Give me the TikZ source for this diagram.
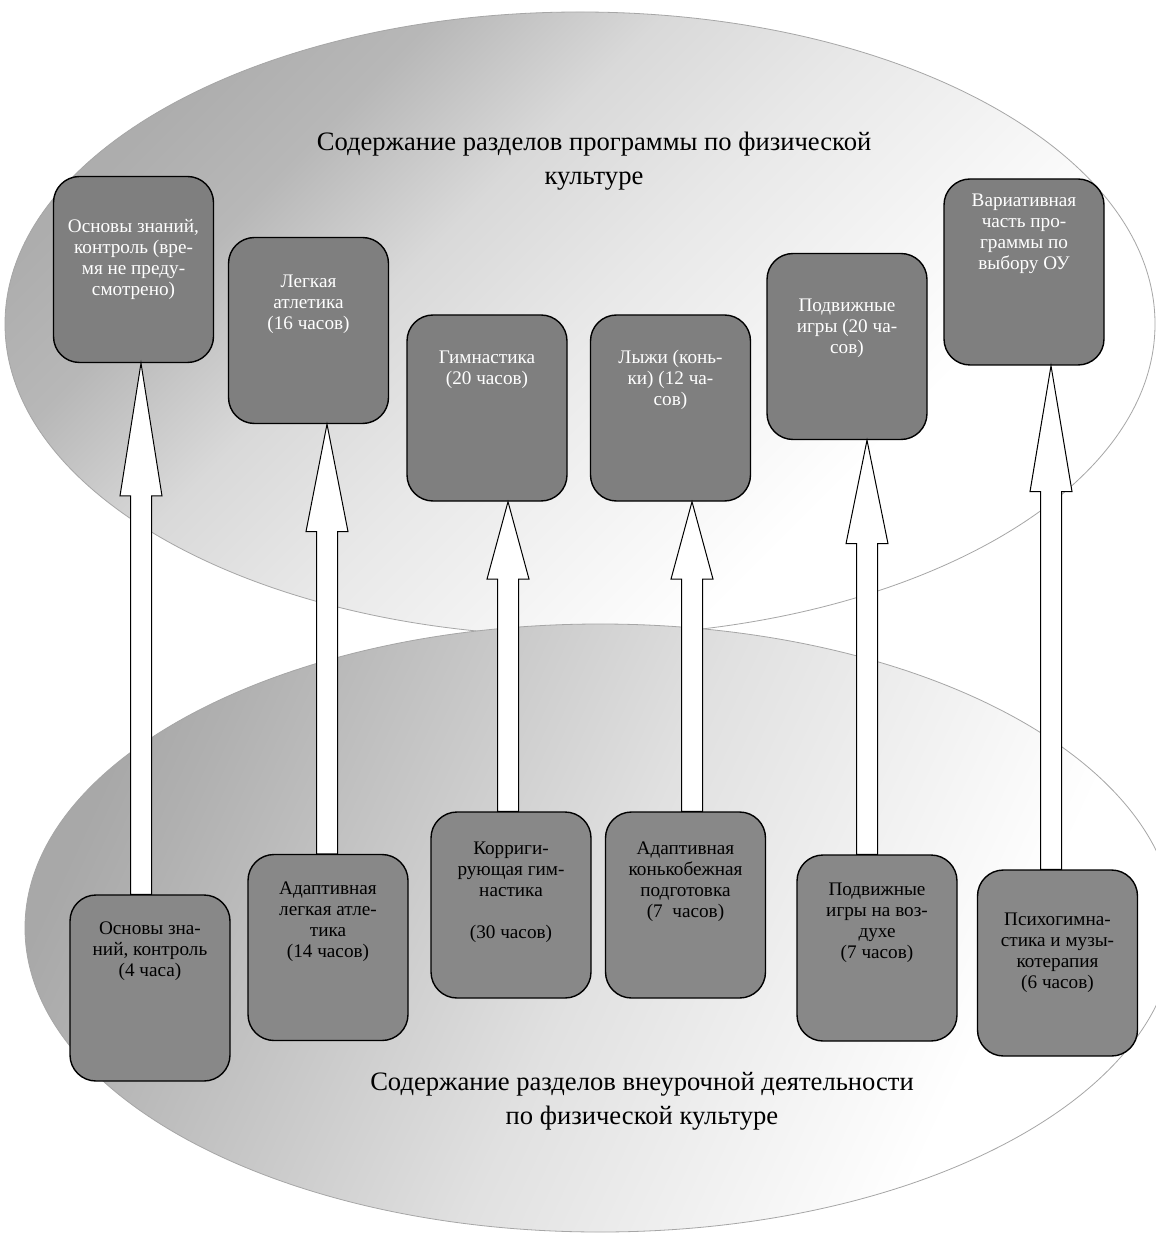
\documentclass[tikz,border=0pt]{standalone}
\usepackage{fontspec}
\setmainfont{Liberation Serif}
\usetikzlibrary{calc}
\definecolor{upgray}{HTML}{7F7F7F}
\definecolor{logray}{HTML}{888888}
\pgfdeclareverticalshading{topoval}{100bp}{color(0bp)=(white); color(33bp)=(white); color(50bp)=(black!9); color(59bp)=(black!15); color(68bp)=(black!28); color(75bp)=(black!32); color(100bp)=(black!34)}
\pgfdeclareverticalshading{lowoval}{100bp}{color(0bp)=(white); color(30bp)=(white); color(40bp)=(black!6); color(50bp)=(black!12); color(57bp)=(black!18); color(72bp)=(black!31); color(76bp)=(black!34); color(100bp)=(black!34)}
\newcommand{\boxtxt}[2]{\parbox[c][93pt][t]{78pt}{\centering\vspace*{#1}\strut #2}}

\begin{document}
\begin{tikzpicture}[x=0.5pt,y=-0.5pt,
  box/.style={draw, line width=0.7pt, rounded corners=13pt, inner sep=0pt, minimum width=80pt, minimum height=93pt, font=\fontsize{9.6}{10.5}\selectfont},
  upbox/.style={box, fill=upgray, text=white},
  lobox/.style={box, fill=logray, text=black},
  title/.style={align=center, font=\fontsize{13.3}{17}\selectfont},
  hollow/.style={draw, fill=white, line width=0.5pt, line join=miter}]
\useasboundingbox (0,0) rectangle (1155,1234);
\fill[white] (0,0) rectangle (1155,1234);
\shade[draw=black!35, line width=0.4pt, shading=topoval, shading angle=45] (580,324) ellipse [x radius=575, y radius=312];
\shade[draw=black!35, line width=0.4pt, shading=lowoval, shading angle=65] (600,928) ellipse [x radius=575, y radius=304];
\node[title] (toptitle) at (594,161) {Содержание разделов программы по физической\\культуре};
\node[title] (bottitle) at (642,1101) {Содержание разделов внеурочной деятельности\\по физической культуре};

\node[upbox] (u1) at (133.5,269.5) {\boxtxt{20.5pt}{Основы знаний,\\контроль (вре-\\мя не преду-\\смотрено)}};
\node[upbox] (u2) at (308.5,330.5) {\boxtxt{17.5pt}{Легкая\\атлетика\\(16 часов)}};
\node[upbox] (u3) at (487,408) {\boxtxt{17pt}{Гимнастика\\(20 часов)}};
\node[upbox] (u4) at (670.5,408) {\boxtxt{17pt}{Лыжи (конь-\\ки) (12 ча-\\сов)}};
\node[upbox] (u5) at (847,346.5) {\boxtxt{21.5pt}{Подвижные\\игры (20 ча-\\сов)}};
\node[upbox] (u6) at (1024,272) {\boxtxt{6.5pt}{Вариативная\\часть про-\\граммы по\\выбору ОУ}};

\node[lobox] (l1) at (150,988) {\boxtxt{12.5pt}{Основы зна-\\ний, контроль\\(4 часа)}};
\node[lobox] (l2) at (328,947.5) {\boxtxt{12.5pt}{Адаптивная\\легкая атле-\\тика\\(14 часов)}};
\node[lobox] (l3) at (511,905) {\boxtxt{14pt}{Корриги-\\рующая гим-\\настика\\\mbox{}\\(30 часов)}};
\node[lobox] (l4) at (685.5,905) {\boxtxt{14pt}{Адаптивная\\конькобежная\\подготовка\\(7\ \ часов)}};
\node[lobox] (l5) at (877,948) {\boxtxt{13pt}{Подвижные\\игры на воз-\\духе\\(7 часов)}};
\node[lobox] (l6) at (1057.5,963) {\boxtxt{20.5pt}{Психогимна-\\стика и музы-\\котерапия\\(6 часов)}};

\foreach \low/\upp/\sh in {l1/u1/-9, l2/u2/-1, l3/u3/-3, l4/u4/6.5, l5/u5/-10, l6/u6/-6.5}
  \draw[hollow] let \p1=($(\low.north)+(\sh,0)$), \p2=($(\upp.south -| \low.north)+(\sh,0)$), \p3=($(\p1)!0.75!(\p2)$) in
    (\x1-5.25pt,\y1) -- (\x1-5.25pt,\y3) -- (\x1-10.5pt,\y3) -- (\p2) -- (\x1+10.5pt,\y3) -- (\x1+5.25pt,\y3) -- (\x1+5.25pt,\y1) -- cycle;
\end{tikzpicture}
\end{document}
